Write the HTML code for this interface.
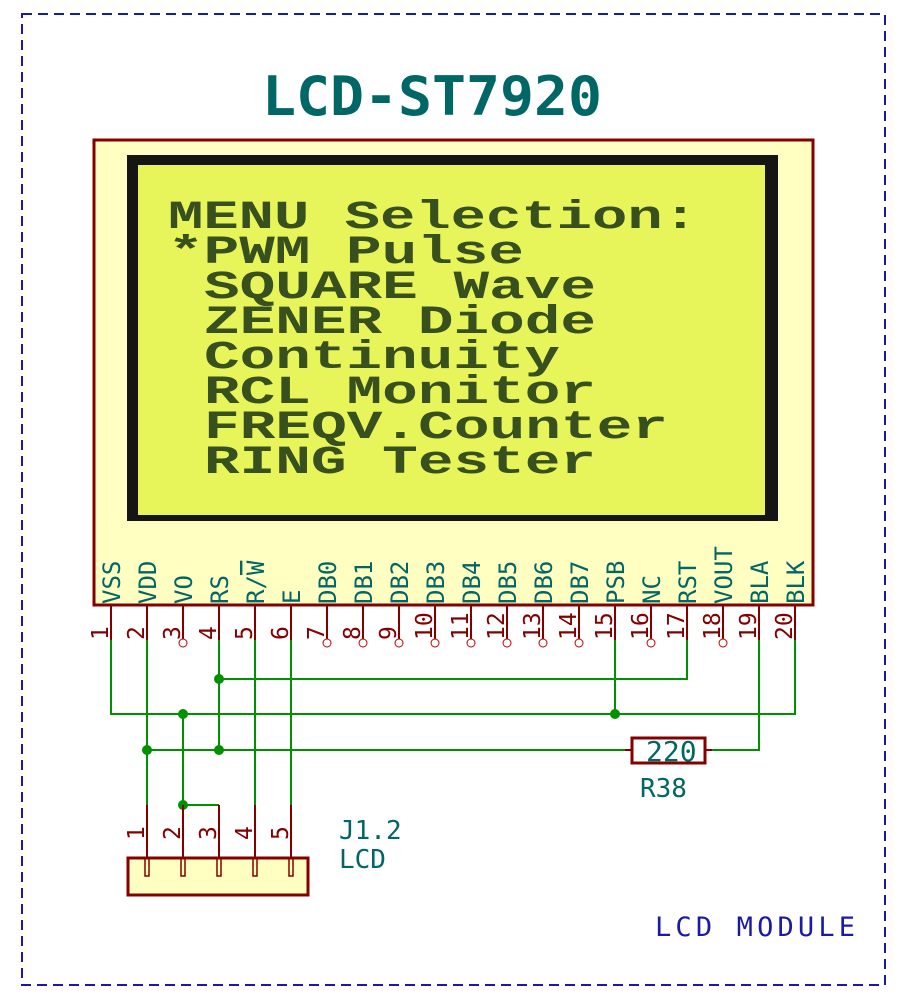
<!DOCTYPE html>
<html><head><meta charset="utf-8"><style>body{margin:0;background:#fff}svg{display:block}</style></head><body>
<svg width="910" height="999" viewBox="0 0 910 999" xmlns="http://www.w3.org/2000/svg">
<rect x="22" y="14" width="863" height="971" fill="none" stroke="#1a1aa6" stroke-width="2" stroke-dasharray="10,6"/>
<text x="432" y="115" text-anchor="middle" font-family="DejaVu Sans Mono, monospace" font-weight="bold" font-size="54" fill="#006666" textLength="340" lengthAdjust="spacingAndGlyphs">LCD-ST7920</text>
<rect x="94" y="140" width="719" height="465" fill="#ffffc2" stroke="#840000" stroke-width="3"/>
<rect x="127" y="155" width="651" height="366" fill="#151515"/>
<rect x="138" y="165" width="627" height="350" fill="#e8f55a"/>
<g font-family="Liberation Mono, monospace" font-weight="bold" font-size="40" fill="#37501e">
<text x="168" y="228" textLength="530" lengthAdjust="spacingAndGlyphs">MENU Selection:</text>
<text x="168" y="263" textLength="356" lengthAdjust="spacingAndGlyphs">*PWM Pulse</text>
<text x="204" y="298" textLength="392" lengthAdjust="spacingAndGlyphs">SQUARE Wave</text>
<text x="204" y="333" textLength="392" lengthAdjust="spacingAndGlyphs">ZENER Diode</text>
<text x="204" y="368" textLength="356" lengthAdjust="spacingAndGlyphs">Continuity</text>
<text x="204" y="403" textLength="392" lengthAdjust="spacingAndGlyphs">RCL Monitor</text>
<text x="204" y="438" textLength="464" lengthAdjust="spacingAndGlyphs">FREQV.Counter</text>
<text x="204" y="473" textLength="392" lengthAdjust="spacingAndGlyphs">RING Tester</text>
</g>
<g stroke="#840000" stroke-width="2">
<line x1="111" y1="605" x2="111" y2="640"/><line x1="147" y1="605" x2="147" y2="640"/><line x1="183" y1="605" x2="183" y2="640"/><line x1="219" y1="605" x2="219" y2="640"/><line x1="255" y1="605" x2="255" y2="640"/><line x1="291" y1="605" x2="291" y2="640"/><line x1="327" y1="605" x2="327" y2="640"/><line x1="363" y1="605" x2="363" y2="640"/><line x1="399" y1="605" x2="399" y2="640"/><line x1="435" y1="605" x2="435" y2="640"/><line x1="471" y1="605" x2="471" y2="640"/><line x1="507" y1="605" x2="507" y2="640"/><line x1="543" y1="605" x2="543" y2="640"/><line x1="579" y1="605" x2="579" y2="640"/><line x1="615" y1="605" x2="615" y2="640"/><line x1="651" y1="605" x2="651" y2="640"/><line x1="687" y1="605" x2="687" y2="640"/><line x1="723" y1="605" x2="723" y2="640"/><line x1="759" y1="605" x2="759" y2="640"/><line x1="795" y1="605" x2="795" y2="640"/>
</g>
<g fill="#fff" stroke="#c00000" stroke-width="1">
<circle cx="183" cy="643" r="4"/><circle cx="327" cy="643" r="4"/><circle cx="363" cy="643" r="4"/><circle cx="399" cy="643" r="4"/><circle cx="435" cy="643" r="4"/><circle cx="471" cy="643" r="4"/><circle cx="507" cy="643" r="4"/><circle cx="543" cy="643" r="4"/><circle cx="579" cy="643" r="4"/><circle cx="651" cy="643" r="4"/><circle cx="723" cy="643" r="4"/>
</g>
<g font-family="DejaVu Sans Mono, monospace" font-size="23" fill="#840000">
<text transform="translate(108,640) rotate(-90)">1</text><text transform="translate(144,640) rotate(-90)">2</text><text transform="translate(180,640) rotate(-90)">3</text><text transform="translate(216,640) rotate(-90)">4</text><text transform="translate(252,640) rotate(-90)">5</text><text transform="translate(288,640) rotate(-90)">6</text><text transform="translate(324,640) rotate(-90)">7</text><text transform="translate(360,640) rotate(-90)">8</text><text transform="translate(396,640) rotate(-90)">9</text><text transform="translate(432,640) rotate(-90)">10</text><text transform="translate(468,640) rotate(-90)">11</text><text transform="translate(504,640) rotate(-90)">12</text><text transform="translate(540,640) rotate(-90)">13</text><text transform="translate(576,640) rotate(-90)">14</text><text transform="translate(612,640) rotate(-90)">15</text><text transform="translate(648,640) rotate(-90)">16</text><text transform="translate(684,640) rotate(-90)">17</text><text transform="translate(720,640) rotate(-90)">18</text><text transform="translate(756,640) rotate(-90)">19</text><text transform="translate(792,640) rotate(-90)">20</text>
<text transform="translate(144,840) rotate(-90)">1</text><text transform="translate(180,840) rotate(-90)">2</text><text transform="translate(216,840) rotate(-90)">3</text><text transform="translate(252,840) rotate(-90)">4</text><text transform="translate(288,840) rotate(-90)">5</text>
</g>
<g font-family="DejaVu Sans Mono, monospace" font-size="24" fill="#006666">
<text transform="translate(120,604) rotate(-90)">VSS</text><text transform="translate(156,604) rotate(-90)">VDD</text><text transform="translate(192,604) rotate(-90)">VO</text><text transform="translate(228,604) rotate(-90)">RS</text><text transform="translate(264,604) rotate(-90)">R/<tspan text-decoration="overline">W</tspan></text><text transform="translate(300,604) rotate(-90)">E</text><text transform="translate(336,604) rotate(-90)">DB0</text><text transform="translate(372,604) rotate(-90)">DB1</text><text transform="translate(408,604) rotate(-90)">DB2</text><text transform="translate(444,604) rotate(-90)">DB3</text><text transform="translate(480,604) rotate(-90)">DB4</text><text transform="translate(516,604) rotate(-90)">DB5</text><text transform="translate(552,604) rotate(-90)">DB6</text><text transform="translate(588,604) rotate(-90)">DB7</text><text transform="translate(624,604) rotate(-90)">PSB</text><text transform="translate(660,604) rotate(-90)">NC</text><text transform="translate(696,604) rotate(-90)">RST</text><text transform="translate(732,604) rotate(-90)">VOUT</text><text transform="translate(768,604) rotate(-90)">BLA</text><text transform="translate(804,604) rotate(-90)">BLK</text>
<text x="339" y="839" font-size="26">J1.2</text><text x="339" y="868" font-size="26">LCD</text>
<text x="640" y="797" font-size="26">R38</text>
<text x="646" y="761" font-size="28">220</text>
</g>
<g stroke="#009000" stroke-width="2" fill="none">
<polyline points="111,640 111,714 795,714 795,640"/>
<line x1="147" y1="640" x2="147" y2="805"/>
<polyline points="219,640 219,750"/>
<polyline points="219,679 687,679 687,640"/>
<line x1="255" y1="640" x2="255" y2="805"/>
<line x1="291" y1="640" x2="291" y2="805"/>
<polyline points="183,714 183,805 219,805"/>
<line x1="615" y1="640" x2="615" y2="714"/>
<line x1="147" y1="750" x2="625" y2="750"/>
<polyline points="712,750 759,750 759,640"/>
</g>
<g fill="#009000">
<circle cx="219" cy="679" r="5"/><circle cx="183" cy="714" r="5"/><circle cx="615" cy="714" r="5"/><circle cx="147" cy="750" r="5"/><circle cx="219" cy="750" r="5"/><circle cx="183" cy="805" r="5"/>
</g>
<g stroke="#840000" stroke-width="2">
<line x1="625" y1="750" x2="632" y2="750"/><line x1="705" y1="750" x2="712" y2="750"/>
<line x1="147" y1="805" x2="147" y2="858"/><line x1="183" y1="805" x2="183" y2="858"/><line x1="219" y1="805" x2="219" y2="858"/><line x1="255" y1="805" x2="255" y2="858"/><line x1="291" y1="805" x2="291" y2="858"/>
</g>
<rect x="632" y="738" width="73" height="25" fill="none" stroke="#840000" stroke-width="3"/>
<rect x="128" y="858" width="180" height="37" fill="#ffffc2" stroke="#840000" stroke-width="3"/>
<g fill="none" stroke="#840000" stroke-width="1.5">
<rect x="145" y="858" width="4" height="18"/><rect x="181" y="858" width="4" height="18"/><rect x="217" y="858" width="4" height="18"/><rect x="253" y="858" width="4" height="18"/><rect x="289" y="858" width="4" height="18"/>
</g>
<text x="655" y="936" font-family="DejaVu Sans Mono, monospace" font-size="27" fill="#1a1aa6" textLength="200" lengthAdjust="spacing">LCD MODULE</text>
</svg>
</body></html>
